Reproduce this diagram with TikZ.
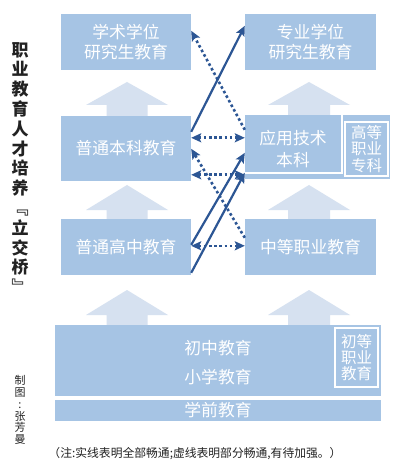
\documentclass[tikz,border=0pt]{standalone}
\usepackage{fontspec}
\setmainfont{Noto Sans CJK SC}
\usetikzlibrary{arrows.meta}
\definecolor{boxblue}{RGB}{166,196,228}
\definecolor{palearrow}{RGB}{214,225,240}
\definecolor{linkblue}{RGB}{44,86,148}
\definecolor{inkgray}{RGB}{34,34,34}
\newcommand\palearrowup[7]{% cx, tip y, base y, bottom y, head half, shaft half, name
  \fill[palearrow] (#1,#2) -- (#1+#5,#3) -- (#1+#6,#3) -- (#1+#6,#4) -- (#1-#6,#4) -- (#1-#6,#3) -- (#1-#5,#3) -- cycle;}
\begin{document}
\begin{tikzpicture}[x=1pt,y=-1pt,
  edubox/.style={fill=boxblue, draw=none, inner sep=0pt, text=white, align=center,
    font=\fontsize{16.8}{20}\selectfont},
  edutext/.style={text=white, inner sep=0pt, align=center, font=\fontsize{16.8}{20}\selectfont},
  smallbox/.style={draw=white, line width=1.6pt, inner sep=0pt, text=white, align=center,
    font=\fontsize{15.5}{16.5}\selectfont},
  fulllink/.style={draw=linkblue, line width=2.2pt, -{Stealth[length=10pt,width=9pt,inset=2pt]}},
  partlink/.style={draw=linkblue, line width=2.6pt, dash pattern=on 2.6pt off 2.6pt,
    -{Stealth[length=10pt,width=9pt,inset=2pt]}},
  partlinkboth/.style={partlink, {Stealth[length=10pt,width=9pt,inset=2pt]}-{Stealth[length=10pt,width=9pt,inset=2pt]}}
]
\useasboundingbox (0,0) rectangle (400,462);
\fill[white] (0,0) rectangle (400,462);

% pale upward arrows
\palearrowup{127}{82}{105}{117}{41}{20.5}{}
\palearrowup{309}{82}{105}{116}{41}{21}{}
\palearrowup{127}{185}{210}{220}{41}{20.5}{}
\palearrowup{309}{185}{210}{220}{41}{21}{}
\palearrowup{127}{290}{315}{326}{41}{20.5}{}
\palearrowup{309}{290}{315}{326}{41}{21}{}

% boxes
\node[edubox, minimum width=130pt, minimum height=56pt] (xs) at (126,42) {学术学位\\研究生教育};
\node[edubox, minimum width=131pt, minimum height=56pt] (zx) at (310.5,42) {专业学位\\研究生教育};
\node[edubox, minimum width=130pt, minimum height=65pt] (bk) at (126,148.5) {普通本科教育};
\node[edubox, minimum width=145pt, minimum height=64pt] (yy) at (317.5,147) {};
\draw[white, line width=1.6pt] (342,115) -- (342,173) -- (245,173);
\node[edutext, font=\fontsize{16.8}{21.5}\selectfont] (yyt) at (293,149) {应用技术\\本科};
\node[smallbox, minimum width=43pt, minimum height=54pt] (gd) at (366.5,149) {高等\\职业\\专科};
\node[edubox, minimum width=130pt, minimum height=56pt] (gz) at (126,247) {普通高中教育};
\node[edubox, minimum width=131pt, minimum height=56pt] (zj) at (310.5,247) {中等职业教育};
\node[edubox, minimum width=326pt, minimum height=71pt] (cx) at (218,360.5) {};
\node[edutext] (cz) at (218,348) {初中教育};
\node[edutext] (xx) at (218,377) {小学教育};
\node[smallbox, font=\fontsize{15.5}{16}\selectfont, minimum width=43pt, minimum height=59pt] (cd) at (356.5,357.5) {初等\\职业\\教育};
\node[edubox, minimum width=326pt, minimum height=21pt] (xq) at (218,410.5) {学前教育};

% connectors
\draw[fulllink] ([yshift=-16pt]bk.north east) -- ([yshift=-12pt]zx.north west);
\draw[fulllink] ([yshift=-26pt]gz.north east) -- ([yshift=-38pt]yy.north west);
\draw[fulllink] ([yshift=-54pt]gz.north east) -- ([yshift=-58pt]yy.north west);
\draw[partlinkboth] ([yshift=-22pt]bk.north east) -- ([yshift=-23pt]yy.north west);
\draw[partlinkboth] ([yshift=-59pt]bk.north east) -- ([yshift=-60pt]yy.north west);
\draw[partlinkboth] ([yshift=-27pt]gz.north east) -- ([yshift=-27pt]zj.north west);
\draw[partlink] ([yshift=-15pt]yy.north west) -- ([yshift=-17pt]xs.north east);
\draw[partlink] ([yshift=-19pt]zj.north west) -- ([yshift=-33pt]bk.north east);

% side texts
\node[text=inkgray, inner sep=0pt, align=center, font=\bfseries\fontsize{17}{19.8}\selectfont] (title) at (20,168)
  {职\\业\\教\\育\\人\\才\\培\\养\\﹃\\立\\交\\桥\\﹄};
\node[text=inkgray, inner sep=0pt, align=center, font=\fontsize{11}{11.8}\selectfont] (credit) at (20,410)
  {制\\图\\:\\张\\芳\\曼};
\node[text=inkgray, inner sep=0pt, font=\fontsize{11.8}{13}\selectfont] (note) at (195,454)
  {（注:实线表明全部畅通;虚线表明部分畅通,有待加强。）};
\end{tikzpicture}
\end{document}
